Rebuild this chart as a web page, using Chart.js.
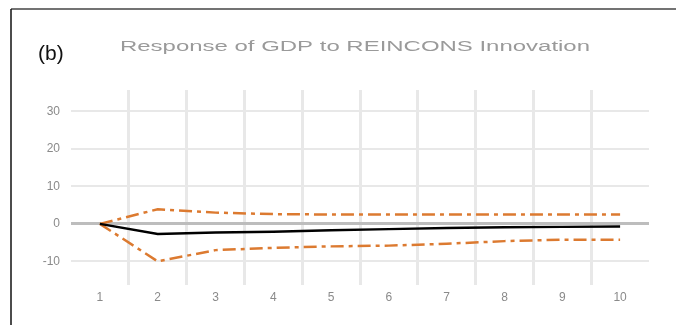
<!DOCTYPE html>
<html>
<head>
<meta charset="utf-8">
<script src="https://cdn.jsdelivr.net/npm/chart.js@4/dist/chart.umd.min.js"></script>
<style>
  html, body { margin: 0; padding: 0; background: #fff; }
  #wrap { width: 676px; height: 325px; position: relative; }
</style>
</head>
<body>
<div id="wrap"><canvas id="irfChart"></canvas></div>
<script>
// data
var periods = [ "1", "2", "3", "4", "5", "6", "7", "8", "9", "10" ];
var response = [ 0, -2.7, -2.3, -2.1, -1.7, -1.4, -1.1, -0.9, -0.8, -0.7 ];
var upperBand = [ 0, 3.9, 3.0, 2.6, 2.5, 2.5, 2.5, 2.5, 2.5, 2.5 ];
var lowerBand = [ 0, -10, -7.0, -6.4, -6.0, -5.8, -5.3, -4.6, -4.2, -4.2 ];
var yTicks = [ -10, 0, 10, 20, 30 ];

var panelLabel = "(b)";
var chartTitle = "Response of GDP to REINCONS Innovation";

var orange = '#DC7A30';

// frame + headings
var decorPlugin = {
        id: 'decor',
        beforeDraw: function( chart )
        {
                var c = chart.ctx;
                c.save();
                c.fillStyle = '#fff';
                c.fillRect( 0, 0, chart.width, chart.height );
                c.strokeStyle = '#444';
                c.lineWidth = 1.5;
                c.beginPath();
                c.moveTo( 11, 9 );
                c.lineTo( chart.width, 9 );
                c.stroke();
                c.strokeStyle = '#111';
                c.beginPath();
                c.moveTo( 11, 9 );
                c.lineTo( 11, chart.height );
                c.stroke();

                c.fillStyle = '#111';
                c.font = '21px "Liberation Sans", Arial, sans-serif';
                c.textBaseline = 'alphabetic';
                c.textAlign = 'left';
                c.fillText( panelLabel, 38, 60 );

                c.font = '14px "Liberation Sans", Arial, sans-serif';
                c.fillStyle = '#9a9a9a';
                var w = c.measureText( chartTitle ).width;
                c.translate( 120, 51 );
                c.scale( 470 / w, 1 );
                c.fillText( chartTitle, 0, 0 );
                c.restore();
        }
};

var ctxI=document.getElementById( "irfChart" ).getContext( '2d' );
var irfChart=new Chart( ctxI, {
        type: 'line',
        plugins: [ decorPlugin ],
        data: {
                labels: periods,
                datasets: [ {
                        label: "Response",
                        data: response,
                        borderColor: '#000',
                        borderWidth: 2.5,
                        pointRadius: 0,
                        tension: 0,
                        fill: false
                },
                {
                        label: "+2 S.E.",
                        data: upperBand,
                        borderColor: orange,
                        borderWidth: 2.5,
                        borderDash: [ 13, 5, 4, 5 ],
                        pointRadius: 0,
                        tension: 0,
                        fill: false
                },
                {
                        label: "-2 S.E.",
                        data: lowerBand,
                        borderColor: orange,
                        borderWidth: 2.5,
                        borderDash: [ 13, 5, 4, 5 ],
                        pointRadius: 0,
                        tension: 0,
                        fill: false
                } ]
        },
        options: {
                responsive: true,
                maintainAspectRatio: false,
                animation: false,
                layout: {
                        padding: { left: 0, right: 27, top: 90, bottom: 0 }
                },
                plugins: {
                        legend: { display: false },
                        title: { display: false },
                        tooltip: { enabled: false }
                },
                scales: {
                        x: {
                                offset: true,
                                grid: {
                                        offset: true,
                                        drawTicks: false,
                                        lineWidth: 3,
                                        color: function( c )
                                        {
                                                // no line at the two outer edges
                                                return ( c.type !== 'tick' || c.index === 0 ) ? 'rgba(0,0,0,0)' : '#e8e8e8';
                                        }
                                },
                                border: { display: false },
                                ticks: {
                                        color: '#8a8a8a',
                                        padding: 5,
                                        maxRotation: 0,
                                        font: { family: '"Liberation Sans", Arial, sans-serif', size: 12 }
                                },
                                afterFit: function( scale ) { scale.height = 40; }
                        },
                        y: {
                                min: -16.3,
                                max: 35.7,
                                afterBuildTicks: function( scale )
                                {
                                        scale.ticks = yTicks.map( function( v ) { return { value: v }; } );
                                },
                                grid: {
                                        drawTicks: false,
                                        lineWidth: function( c ) { return c.tick && c.tick.value === 0 ? 3 : 2; },
                                        color: function( c ) { return c.tick && c.tick.value === 0 ? '#bdbdbd' : '#e8e8e8'; }
                                },
                                border: { display: false },
                                ticks: {
                                        color: '#8a8a8a',
                                        padding: 11,
                                        font: { family: '"Liberation Sans", Arial, sans-serif', size: 12 }
                                },
                                afterFit: function( scale ) { scale.width = 71; }
                        }
                }
        }
} );
</script>
</body>
</html>
